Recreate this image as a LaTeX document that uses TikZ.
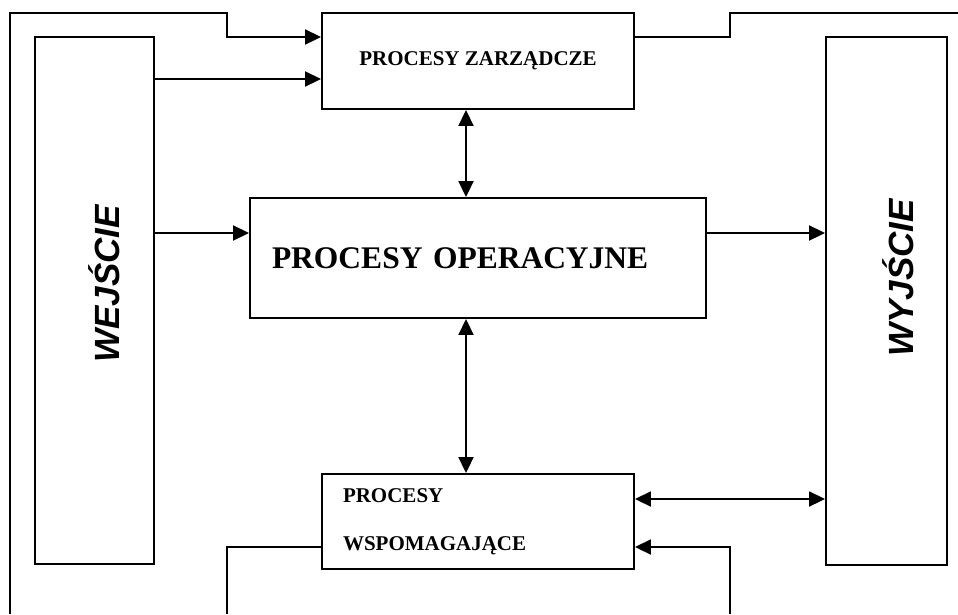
\documentclass[tikz,border=0pt]{standalone}
\usepackage{fontspec}
\setmainfont{Liberation Serif}
\setsansfont{Liberation Sans}
\usetikzlibrary{arrows.meta}

\tikzset{
    box/.style={draw, inner sep=0pt},
    side/.style={rotate=90, font=\sffamily\bfseries\itshape\fontsize{35}{42}\selectfont},
    arr/.style={-{Triangle[length=16pt,width=15pt]}},
    darr/.style={{Triangle[length=16pt,width=15pt]}-{Triangle[length=16pt,width=15pt]}},
}

\begin{document}
\begin{tikzpicture}[x=1pt, y=-1pt, line width=1.9pt]
    \useasboundingbox (0,0) rectangle (958,614);

    % input and output columns
    \node[box, minimum width=119pt, minimum height=527pt] (wej) at (94.5,300.5) {};
    \node[box, minimum width=121pt, minimum height=528pt] (wyj) at (886.5,301) {};
    \node[side] (wejt) at (104,284) {WEJŚCIE};
    \node[side] (wyjt) at (898,278) {WYJŚCIE};

    % the three process boxes
    \node[box, minimum width=312pt, minimum height=96pt,
          font=\bfseries\fontsize{21}{25}\selectfont] (zar) at (478,61) {PROCESY ZARZĄDCZE};
    \node[box, minimum width=456pt, minimum height=120pt, inner xsep=22pt,
          text width=412pt, align=left,
          font=\bfseries\fontsize{31.5}{38}\selectfont] (op) at (478,258) {\raisebox{-6pt}{PROCESY OPERACYJNE}};
    \node[box, minimum width=312pt, minimum height=95pt, inner xsep=21pt,
          text width=270pt, align=left,
          font=\bfseries\fontsize{21}{48}\selectfont] (wsp) at (478,521.5) {PROCESY\\WSPOMAGAJĄCE};

    % helper rows and column
    \coordinate (fl) at (227,37);
    \coordinate (fr) at (730,37);
    \coordinate (r0) at (0,79);
    \coordinate (row) at (0,233);
    \coordinate (r1) at (0,499);
    \coordinate (r2) at (0,547);
    \coordinate (col) at (466,0);

    % outer frame, open at the bottom and on the right
    \draw[arr] (10,614) |- (227,13) -- (fl) -- (fl -| zar.west);
    \draw (fl -| zar.east) -- (fr) |- (958,13);

    % inputs
    \draw[arr] (wej.east |- r0) -- (zar.west |- r0);
    \draw[arr] (wej.east |- row) -- (op.west |- row);
    \draw[arr] (op.east |- row) -- (wyj.west |- row);

    % links between processes
    \draw[darr] (zar.south -| col) -- (op.north -| col);
    \draw[darr] (op.south -| col) -- (wsp.north -| col);
    \draw[darr] (wsp.east |- r1) -- (wyj.west |- r1);

    % feedback lines from below
    \draw[arr] (730,614) |- (wsp.east |- r2);
    \draw (227,614) |- (wsp.west |- r2);
\end{tikzpicture}
\end{document}
